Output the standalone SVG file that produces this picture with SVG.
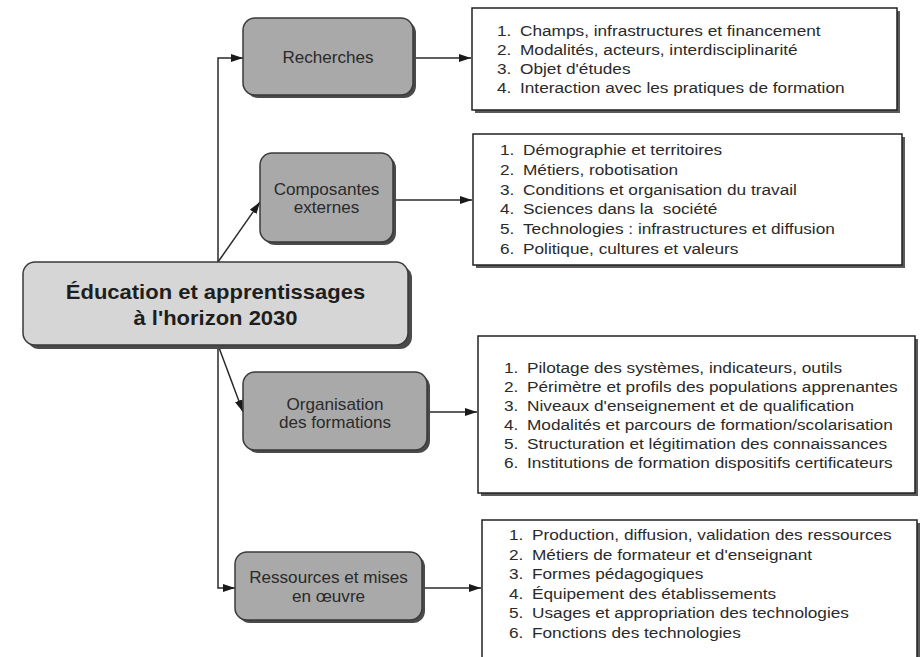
<svg xmlns="http://www.w3.org/2000/svg" width="924" height="657" viewBox="0 0 924 657">
<defs>
<marker id="arr" markerUnits="userSpaceOnUse" markerWidth="13" markerHeight="8" refX="12" refY="4" orient="auto">
<path d="M0,0 L12,4 L0,8 z" fill="#1a1a1a"/>
</marker>
</defs>
<style>
.shadow{fill:#4a4a4a}
.cat{fill:#a9a9a9;stroke:#3a3a3a;stroke-width:1.5}
.main{fill:#d6d6d6;stroke:#3a3a3a;stroke-width:1.5}
.list{fill:#ffffff;stroke:#222;stroke-width:1.5}
.lshadow{fill:#5a5a5a}
.conn{fill:none;stroke:#2a2a2a;stroke-width:1.5}
.ct{font-family:"Liberation Sans",Arial,sans-serif;font-size:16px;fill:#2a2a2a;text-anchor:middle}
.mt{font-family:"Liberation Sans",Arial,sans-serif;font-size:20px;font-weight:bold;fill:#1e1e1e;text-anchor:middle}
.lt{font-family:"Liberation Sans",Arial,sans-serif;font-size:15.5px;fill:#2a2a2a}
</style>
<rect width="924" height="657" fill="#ffffff"/>
<g id="connectors">
<path class="conn" d="M218,262 L218,58 L243,58" marker-end="url(#arr)"/>
<path class="conn" d="M218,262 L260,202" marker-end="url(#arr)"/>
<path class="conn" d="M218,345 L218,588 L235,588" marker-end="url(#arr)"/>
<path class="conn" d="M218,345 L243,412" marker-end="url(#arr)"/>
<path class="conn" d="M413,58 L471,58" marker-end="url(#arr)"/>
<path class="conn" d="M393,200 L472,200" marker-end="url(#arr)"/>
<path class="conn" d="M427,412 L477,412" marker-end="url(#arr)"/>
<path class="conn" d="M422,588 L481,588" marker-end="url(#arr)"/>
</g>
<g id="node-main">
<rect class="shadow" x="27" y="266" width="385" height="83" rx="12"/>
<rect class="main" x="23" y="262" width="385" height="83" rx="12"/>
<text class="mt" transform="translate(215.5,299) scale(1.1,1)">Éducation et apprentissages</text>
<text class="mt" transform="translate(215.5,325) scale(1.1,1)">à l'horizon 2030</text>
</g>
<g id="node-recherches">
<rect class="shadow" x="246" y="21" width="170" height="77" rx="12"/>
<rect class="cat" x="243" y="18" width="170" height="77" rx="12"/>
<text class="ct" transform="translate(328,63) scale(1.07,1)">Recherches</text>
</g>
<g id="node-composantes">
<rect class="shadow" x="263" y="156" width="133" height="89" rx="12"/>
<rect class="cat" x="260" y="153" width="133" height="89" rx="12"/>
<text class="ct" transform="translate(326.5,195) scale(1.07,1)">Composantes</text>
<text class="ct" transform="translate(326.5,213) scale(1.07,1)">externes</text>
</g>
<g id="node-organisation">
<rect class="shadow" x="246" y="375" width="184" height="78" rx="12"/>
<rect class="cat" x="243" y="372" width="184" height="78" rx="12"/>
<text class="ct" transform="translate(335,410) scale(1.07,1)">Organisation</text>
<text class="ct" transform="translate(335,428) scale(1.07,1)">des formations</text>
</g>
<g id="node-ressources">
<rect class="shadow" x="238" y="555" width="187" height="68" rx="12"/>
<rect class="cat" x="235" y="552" width="187" height="68" rx="12"/>
<text class="ct" transform="translate(328.5,583) scale(1.07,1)">Ressources et mises</text>
<text class="ct" transform="translate(328.5,602) scale(1.07,1)">en œuvre</text>
</g>
<g id="list-recherches">
<rect class="lshadow" x="475" y="11" width="425" height="102"/>
<rect class="list" x="472" y="8" width="425" height="102"/>
<g transform="translate(520,0) scale(1.113,1)">
<text class="lt" x="-20.7" y="36">1.</text><text class="lt" x="0" y="36">Champs, infrastructures et financement</text>
<text class="lt" x="-20.7" y="55">2.</text><text class="lt" x="0" y="55">Modalités, acteurs, interdisciplinarité</text>
<text class="lt" x="-20.7" y="74">3.</text><text class="lt" x="0" y="74">Objet d'études</text>
<text class="lt" x="-20.7" y="93">4.</text><text class="lt" x="0" y="93">Interaction avec les pratiques de formation</text>
</g>
</g>
<g id="list-composantes">
<rect class="lshadow" x="476" y="137" width="429" height="131"/>
<rect class="list" x="473" y="134" width="429" height="131"/>
<g transform="translate(523,0) scale(1.113,1)">
<text class="lt" x="-20.7" y="155">1.</text><text class="lt" x="0" y="155">Démographie et territoires</text>
<text class="lt" x="-20.7" y="175">2.</text><text class="lt" x="0" y="175">Métiers, robotisation</text>
<text class="lt" x="-20.7" y="195">3.</text><text class="lt" x="0" y="195">Conditions et organisation du travail</text>
<text class="lt" x="-20.7" y="214">4.</text><text class="lt" x="0" y="214" xml:space="preserve">Sciences dans la  société</text>
<text class="lt" x="-20.7" y="234">5.</text><text class="lt" x="0" y="234">Technologies : infrastructures et diffusion</text>
<text class="lt" x="-20.7" y="254">6.</text><text class="lt" x="0" y="254">Politique, cultures et valeurs</text>
</g>
</g>
<g id="list-organisation">
<rect class="lshadow" x="481" y="339" width="437" height="157"/>
<rect class="list" x="478" y="336" width="437" height="157"/>
<g transform="translate(527,0) scale(1.113,1)">
<text class="lt" x="-20.7" y="373">1.</text><text class="lt" x="0" y="373">Pilotage des systèmes, indicateurs, outils</text>
<text class="lt" x="-20.7" y="392">2.</text><text class="lt" x="0" y="392">Périmètre et profils des populations apprenantes</text>
<text class="lt" x="-20.7" y="411">3.</text><text class="lt" x="0" y="411">Niveaux d'enseignement et de qualification</text>
<text class="lt" x="-20.7" y="430">4.</text><text class="lt" x="0" y="430">Modalités et parcours de formation/scolarisation</text>
<text class="lt" x="-20.7" y="449">5.</text><text class="lt" x="0" y="449">Structuration et légitimation des connaissances</text>
<text class="lt" x="-20.7" y="468">6.</text><text class="lt" x="0" y="468">Institutions de formation dispositifs certificateurs</text>
</g>
</g>
<g id="list-ressources">
<rect class="lshadow" x="485" y="523" width="435" height="145"/>
<rect class="list" x="482" y="520" width="435" height="145"/>
<g transform="translate(532,0) scale(1.113,1)">
<text class="lt" x="-20.7" y="540">1.</text><text class="lt" x="0" y="540">Production, diffusion, validation des ressources</text>
<text class="lt" x="-20.7" y="560">2.</text><text class="lt" x="0" y="560">Métiers de formateur et d'enseignant</text>
<text class="lt" x="-20.7" y="579">3.</text><text class="lt" x="0" y="579">Formes pédagogiques</text>
<text class="lt" x="-20.7" y="599">4.</text><text class="lt" x="0" y="599">Équipement des établissements</text>
<text class="lt" x="-20.7" y="618">5.</text><text class="lt" x="0" y="618">Usages et appropriation des technologies</text>
<text class="lt" x="-20.7" y="638">6.</text><text class="lt" x="0" y="638">Fonctions des technologies</text>
</g>
</g>
</svg>
